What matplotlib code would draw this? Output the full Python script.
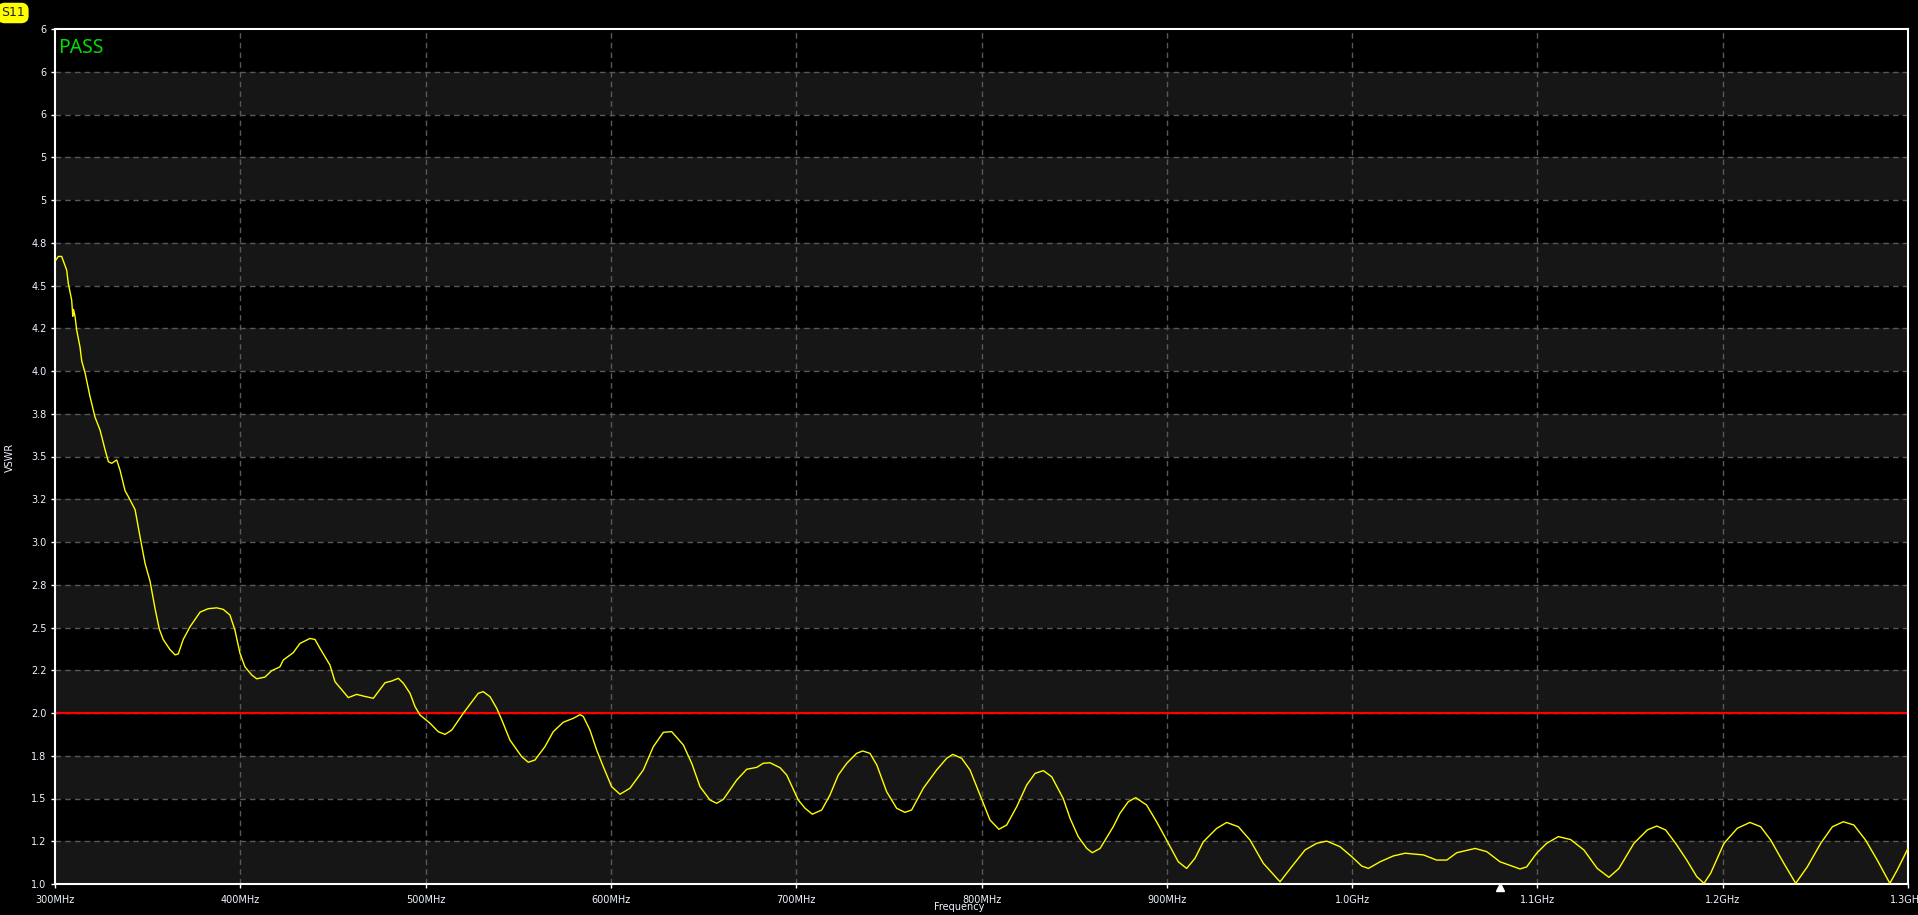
import matplotlib
matplotlib.use("Agg")
import matplotlib.pyplot as plt
import matplotlib.transforms as mtransforms
import numpy as np

# ---------------- data ----------------
freq_mhz = [300.5, 301.8, 303.6, 306.3, 307.2, 309.0, 309.6, 310.0, 310.8, 311.7, 313.5, 314.4,
            316.2, 318.9, 321.6, 324.3, 327.0, 328.8, 330.6, 333.3, 335.1, 337.8, 339.6, 343.2,
            345.9, 348.6, 351.3, 354.0, 356.3, 358.4, 362.1, 364.8, 366.5, 369.2, 372.9, 378.3,
            382.7, 387.3, 390.8, 394.4, 397.1, 399.8, 402.5, 406.2, 408.9, 413.3, 416.9, 421.4,
            423.2, 428.6, 432.2, 437.6, 440.3, 443.0, 448.4, 451.1, 455.6, 458.3, 462.8, 466.4,
            471.8, 474.5, 478.1, 481.7, 485.3, 488.0, 491.6, 494.3, 497.0, 502.4, 506.9, 510.5,
            514.1, 520.3, 525.7, 528.4, 531.1, 534.8, 538.4, 541.1, 545.5, 551.9, 555.4, 559.0,
            564.4, 568.9, 574.3, 579.7, 583.3, 585.1, 588.7, 592.3, 595.9, 600.4, 604.9, 610.3,
            617.5, 622.9, 628.3, 632.8, 639.1, 643.6, 648.1, 653.5, 657.1, 660.7, 667.9, 673.3,
            678.7, 682.2, 685.9, 691.3, 694.9, 701.1, 704.8, 708.7, 713.8, 718.2, 722.7, 727.3,
            732.6, 735.9, 739.8, 743.5, 748.8, 754.2, 758.7, 762.3, 768.6, 775.8, 781.2, 784.5,
            789.3, 793.8, 799.2, 804.6, 809.4, 813.6, 819.0, 824.4, 828.9, 833.4, 837.9, 844.1,
            847.8, 852.2, 856.8, 859.8, 864.0, 871.1, 874.7, 879.2, 883.2, 889.1, 894.5, 899.9,
            906.2, 910.7, 915.2, 919.7, 926.9, 932.3, 938.6, 944.9, 952.1, 961.1, 967.4, 974.6,
            980.9, 986.3, 993.5, 999.8, 1005.2, 1008.8, 1015.1, 1022.2, 1028.6, 1038.5, 1045.6,
            1051.1, 1056.5, 1066.4, 1072.7, 1079.8, 1090.6, 1094.2, 1099.6, 1105.0, 1111.3,
            1117.9, 1125.1, 1132.3, 1138.6, 1144.0, 1152.1, 1159.3, 1164.4, 1169.2, 1174.6,
            1180.6, 1186.0, 1189.9, 1193.5, 1200.7, 1207.9, 1214.7, 1220.5, 1225.9, 1233.0,
            1239.4, 1245.7, 1252.9, 1259.2, 1265.1, 1270.8, 1277.1, 1283.4, 1290.2, 1294.2, 1300.0]

vswr = [4.65, 4.67, 4.67, 4.59, 4.51, 4.415, 4.32, 4.36, 4.32, 4.24, 4.14, 4.06,
        3.99, 3.85, 3.73, 3.655, 3.54, 3.47, 3.46, 3.48, 3.42, 3.30, 3.265, 3.19,
        3.03, 2.875, 2.77, 2.61, 2.49, 2.43, 2.37, 2.34, 2.345, 2.43, 2.505, 2.59,
        2.61, 2.615, 2.606, 2.573, 2.485, 2.35, 2.27, 2.222, 2.20, 2.21, 2.247, 2.27,
        2.31, 2.353, 2.407, 2.436, 2.43, 2.378, 2.28, 2.183, 2.125, 2.09, 2.109, 2.099,
        2.086, 2.125, 2.177, 2.187, 2.203, 2.174, 2.115, 2.037, 1.988, 1.94, 1.89, 1.875,
        1.90, 1.998, 2.076, 2.115, 2.125, 2.095, 2.027, 1.96, 1.842, 1.744, 1.712, 1.725,
        1.803, 1.891, 1.946, 1.969, 1.99, 1.98, 1.90, 1.784, 1.686, 1.569, 1.525, 1.56,
        1.667, 1.803, 1.887, 1.891, 1.813, 1.706, 1.569, 1.491, 1.472, 1.495, 1.608, 1.671,
        1.682, 1.706, 1.709, 1.68, 1.637, 1.491, 1.443, 1.408, 1.433, 1.52, 1.637, 1.706,
        1.764, 1.778, 1.764, 1.696, 1.54, 1.443, 1.419, 1.433, 1.56, 1.667, 1.735, 1.758,
        1.735, 1.667, 1.52, 1.374, 1.32, 1.345, 1.452, 1.579, 1.647, 1.663, 1.627, 1.50,
        1.384, 1.277, 1.208, 1.183, 1.208, 1.335, 1.413, 1.481, 1.505, 1.462, 1.364, 1.257,
        1.13, 1.091, 1.15, 1.247, 1.325, 1.36, 1.335, 1.257, 1.121, 1.013, 1.101, 1.199,
        1.238, 1.251, 1.218, 1.16, 1.105, 1.091, 1.13, 1.164, 1.18, 1.17, 1.14,
        1.14, 1.183, 1.208, 1.189, 1.13, 1.088, 1.10, 1.18, 1.238, 1.277,
        1.26, 1.199, 1.091, 1.039, 1.091, 1.238, 1.316, 1.339, 1.316, 1.238,
        1.14, 1.043, 1.004, 1.063, 1.238, 1.326, 1.36, 1.335, 1.257, 1.121,
        1.004, 1.101, 1.238, 1.335, 1.364, 1.345, 1.257, 1.14, 1.004, 1.082, 1.208]

x_ticks = [300, 400, 500, 600, 700, 800, 900, 1000, 1100, 1200, 1300]
x_tick_labels = ["300MHz", "400MHz", "500MHz", "600MHz", "700MHz", "800MHz", "900MHz",
                 "1.0GHz", "1.1GHz", "1.2GHz", "1.3GHz"]
y_ticks = [1.0, 1.25, 1.5, 1.75, 2.0, 2.25, 2.5, 2.75, 3.0, 3.25, 3.5, 3.75, 4.0, 4.25,
           4.5, 4.75, 5.0, 5.25, 5.5, 5.75, 6.0]
y_tick_labels = ["1.0", "1.2", "1.5", "1.8", "2.0", "2.2", "2.5", "2.8", "3.0", "3.2", "3.5",
                 "3.8", "4.0", "4.2", "4.5", "4.8", "5", "5", "6", "6", "6"]
limit_value = 2.0
marker_freq = 1080
status_text = "PASS"
trace_name = "S11"

# ---------------- figure ----------------
W, H = 1918, 915
fig = plt.figure(figsize=(W / 100, H / 100), dpi=100, facecolor="black")
L, R, T, B = 55, 1908, 29, 884
ax = fig.add_axes([L / W, (H - B) / H, (R - L) / W, (B - T) / H])
ax.set_facecolor("black")
ax.set_xlim(x_ticks[0], x_ticks[-1])
ax.set_ylim(y_ticks[0], y_ticks[-1])

# alternating bands
for i in range(len(y_ticks) - 1):
    if i % 2 == 0:
        ax.axhspan(y_ticks[i], y_ticks[i + 1], color="#161616", lw=0, zorder=0)

# grid
for yv in y_ticks[1:-1]:
    ax.axhline(yv, color="#585858", lw=1, ls=(0, (4, 3)), zorder=1)
for xv in x_ticks[1:-1]:
    ax.axvline(xv, color="#585858", lw=1, ls=(0, (4, 3)), zorder=1)

# limit line
ax.axhline(limit_value, color="#ff0000", lw=1.6, zorder=2)

# trace
ax.plot(freq_mhz, vswr, color="#ffff00", lw=1.0, zorder=3)

# axes styling
for s in ax.spines.values():
    s.set_color("white")
    s.set_linewidth(1.5)
ax.set_xticks(x_ticks)
ax.set_xticklabels(x_tick_labels)
ax.set_yticks(y_ticks)
ax.set_yticklabels(y_tick_labels)
ax.tick_params(colors="white", labelcolor="#eef4ff", labelsize=7, length=3, width=1, pad=3)
ax.tick_params(axis="x", pad=5)

# marker triangle under axis
trans = mtransforms.blended_transform_factory(ax.transData, ax.transAxes)
ax.plot([marker_freq], [-0.004], marker="^", color="white", markersize=6, transform=trans,
        clip_on=False, zorder=5, ls="none")

# texts
ax.text(0.0015, 1 - 24 / (B - T), status_text, transform=ax.transAxes, color="#00dd00",
        fontsize=14, family="Noto Sans", va="baseline", ha="left")
fig.text(13 / W, 1 - 13 / H, trace_name, color="#222222", fontsize=9, ha="center", va="center",
         bbox=dict(boxstyle="round,pad=0.3,rounding_size=0.6", fc="#ffff00", ec="none"))
fig.text(10 / W, 1 - 457 / H, "VSWR", color="#eef4ff", fontsize=7, rotation=90,
         ha="center", va="center")
fig.text(959 / W, 1 - 907 / H, "Frequency", color="#eef4ff", fontsize=7,
         ha="center", va="center")

fig.savefig("out.png", dpi=100, facecolor="black")
